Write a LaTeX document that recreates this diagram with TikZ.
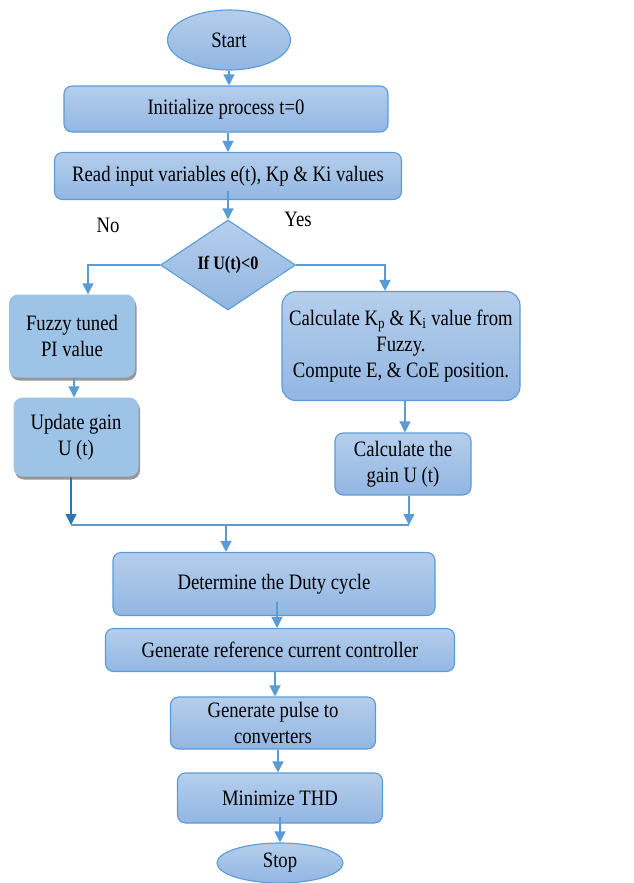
\documentclass[tikz,border=0pt]{standalone}
\usepackage{fontspec}
\setmainfont{Liberation Serif}[FakeStretch=0.85]
\usetikzlibrary{shapes.geometric,arrows.meta,shadows}

\definecolor{edgeblue}{RGB}{91,155,213}
\definecolor{darkblue}{RGB}{46,117,182}
\definecolor{filltop}{RGB}{181,206,236}
\definecolor{fillbot}{RGB}{146,182,226}
\definecolor{flatfill}{RGB}{157,195,230}
\definecolor{shadowgray}{RGB}{140,140,140}

\tikzset{
  x=1pt, y=-1pt,
  txt/.style={font=\fontsize{22}{26}\selectfont, align=center, inner sep=0pt},
  procbox/.style={txt, rectangle, rounded corners=8pt, draw=edgeblue, line width=1.1pt,
    top color=filltop, bottom color=fillbot},
  flatbox/.style={txt, rectangle, rounded corners=9pt, fill=flatfill,
    drop shadow={shadow xshift=1.5pt, shadow yshift=-3pt, fill=shadowgray, opacity=0.9}},
  terminal/.style={txt, ellipse, draw=edgeblue, line width=1.1pt,
    top color=filltop, bottom color=fillbot},
  decision/.style={txt, diamond, aspect=1.5, draw=edgeblue, line width=1.1pt,
    top color=filltop, bottom color=fillbot, font=\fontsize{19}{22}\selectfont\bfseries},
  flow/.style={draw=edgeblue, line width=1.3pt, -{Triangle[width=11pt,length=11pt]}},
  plain/.style={draw=edgeblue, line width=1.3pt},
  label/.style={font=\fontsize{22}{26}\selectfont, inner sep=0pt}
}

\begin{document}
\begin{tikzpicture}
\useasboundingbox (0,0) rectangle (634,883);

% main column
\node[terminal, minimum width=123pt, minimum height=60pt] (start) at (229,40) {Start};
\node[procbox, minimum width=324pt, minimum height=46pt] (init) at (226,109) {Initialize process t=0};
\node[procbox, minimum width=347pt, minimum height=47pt] (read) at (228,176) {Read input variables e(t), Kp \& Ki values};
\node[decision, minimum width=135pt, minimum height=90pt] (dec) at (228,265) {If U(t)<0};

% "No" branch
\node[flatbox, minimum width=126pt, minimum height=83pt] (fuzzy) at (72,336) {Fuzzy tuned\\PI value};
\node[flatbox, minimum width=125pt, minimum height=79pt] (update) at (76,437) {Update gain\\U (t)};

% "Yes" branch
\node[procbox, rounded corners=14pt, minimum width=238pt, minimum height=109pt] (calc) at (401,346)
  {Calculate K\textsubscript{p} \& K\textsubscript{i} value from\\Fuzzy.\\Compute E, \& CoE position.};
\node[procbox, minimum width=136pt, minimum height=62pt] (gain) at (403,464) {Calculate the\\gain U (t)};

% lower column
\node[procbox, minimum width=322pt, minimum height=63pt] (duty) at (274,584) {Determine the Duty cycle};
\node[procbox, minimum width=349pt, minimum height=43pt] (ref) at (280,650) {Generate reference current controller};
\node[procbox, minimum width=205pt, minimum height=52pt] (pulse) at (273,723) {Generate pulse to\\converters};
\node[procbox, minimum width=205pt, minimum height=50pt] (thd) at (280,798) {Minimize THD};
\node[terminal, minimum width=126pt, minimum height=40pt] (stop) at (280,863) {Stop};

% branch labels
\node[label] (no) at (108,225) {No};
\node[label] (yes) at (298,219) {Yes};

% merge points
\coordinate (jl) at (71,525);
\coordinate (jr) at (409,525);
\coordinate (jm) at (226,525);

% connectors (some start a little inside their box)
\draw[flow] (start.south) -- (start.south |- init.north);
\draw[flow] (init.south -| read.north) -- (read.north);
\draw[flow] ([yshift=9pt]read.south) -- (dec.north);
\draw[flow] (dec.west) -| ([xshift=16pt]fuzzy.north);
\draw[flow] (dec.east) -| ([xshift=-16pt]calc.north);
\draw[flow] ([xshift=2pt]fuzzy.south) -- ([xshift=-2pt]update.north);
\draw[flow, draw=darkblue] ([xshift=-5pt]update.south) -- (jl);
\draw[flow] ([xshift=4pt]calc.south) -- ([xshift=2pt]gain.north);
\draw[flow] ([xshift=6pt]gain.south) -- (jr);
\draw[plain] (jl) -- (jr);
\draw[flow] (jm) -- (jm |- duty.north);
\draw[flow] ([xshift=3pt,yshift=14pt]duty.south) -- ([xshift=-3pt]ref.north);
\draw[flow] ([xshift=-5pt]ref.south) -- ([xshift=2pt]pulse.north);
\draw[flow] ([xshift=5pt]pulse.south) -- ([xshift=-2pt]thd.north);
\draw[flow] ([yshift=7pt]thd.south) -- (stop.north);
\end{tikzpicture}
\end{document}
